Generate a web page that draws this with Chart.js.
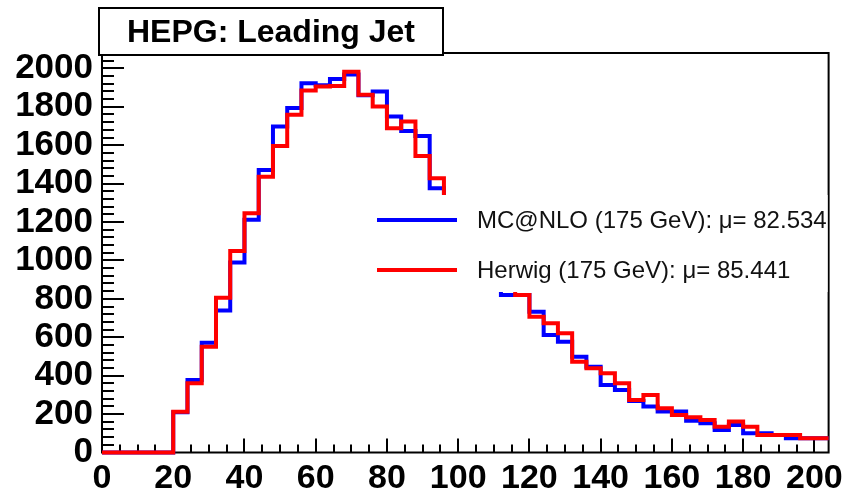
<!DOCTYPE html>
<html>
<head>
<meta charset="utf-8">
<script src="https://cdn.jsdelivr.net/npm/chart.js@4/dist/chart.umd.min.js"></script>
<style>
  html, body { margin: 0; padding: 0; background: #ffffff; }
  #wrap { width: 849px; height: 499px; }
</style>
</head>
<body>
<div id="wrap"><canvas id="c" width="849" height="499"></canvas></div>
<script>
// Leading jet pT spectrum, 4 GeV bins from 0 to 204 GeV
const binWidth = 4;
const binLowEdges = [
  0, 4, 8, 12, 16, 20, 24, 28, 32, 36, 40, 44, 48, 52, 56, 60, 64, 68, 72, 76,
  80, 84, 88, 92, 96, 100, 104, 108, 112, 116, 120, 124, 128, 132, 136, 140,
  144, 148, 152, 156, 160, 164, 168, 172, 176, 180, 184, 188, 192, 196, 200
];
const mcatnloCounts = [
  0, 0, 0, 0, 0, 210, 378, 572, 739, 989, 1212, 1471, 1697, 1793, 1923, 1912,
  1944, 1968, 1860, 1879, 1749, 1674, 1648, 1376, 1250, 1130, 1010, 900, 820,
  820, 733, 612, 577, 499, 447, 352, 326, 268, 239, 213, 213, 165, 152, 117,
  143, 100, 100, 91, 74, 74, 74
];
const herwigCounts = [
  0, 0, 0, 0, 0, 212, 360, 551, 806, 1049, 1246, 1436, 1596, 1758, 1885, 1905,
  1908, 1983, 1862, 1801, 1688, 1723, 1544, 1428, 1290, 1160, 1040, 950, 880,
  820, 707, 673, 621, 473, 438, 412, 360, 273, 299, 230, 195, 184, 169, 134,
  161, 134, 91, 91, 91, 74, 74
];
const seriesNames = [
  "MC@NLO (175 GeV): \u03bc= 82.534",
  "Herwig (175 GeV): \u03bc= 85.441"
];
const titleText = "HEPG: Leading Jet";
const xTickStep = 20, xMinorStep = 5;
const yTickStep = 200, yMinorStep = 40;

const FONT = "'Liberation Sans', Arial, Helvetica, sans-serif";

// step points: one per bin low edge, plus the closing upper edge
function histPoints(counts) {
  const pts = binLowEdges.map((x, i) => ({ x: x, y: counts[i] }));
  const last = binLowEdges.length - 1;
  pts.push({ x: binLowEdges[last] + binWidth, y: counts[last] });
  return pts;
}

// frame box and inward-pointing ticks, ROOT style
const frameAndTicks = {
  id: 'frameAndTicks',
  beforeDraw(chart) {
    const ctx = chart.ctx;
    ctx.save();
    ctx.fillStyle = '#ffffff';
    ctx.fillRect(0, 0, chart.width, chart.height);
    ctx.restore();
  },
  beforeDatasetsDraw(chart) {
    const { ctx, chartArea: a, scales } = chart;
    const xs = scales.x, ys = scales.y;
    ctx.save();
    ctx.strokeStyle = '#000000';
    ctx.lineWidth = 2;
    ctx.strokeRect(a.left, a.top, a.right - a.left, a.bottom - a.top);

    ctx.beginPath();
    // y-axis ticks
    for (let v = 0; v <= ys.max + 0.001; v += yMinorStep) {
      const py = Math.round(ys.getPixelForValue(v));
      const len = (v % yTickStep === 0) ? 22 : 12;
      ctx.moveTo(a.left, py);
      ctx.lineTo(a.left + len, py);
    }
    // x-axis ticks
    for (let v = 0; v <= xs.max + 0.001; v += xMinorStep) {
      const px = Math.round(xs.getPixelForValue(v));
      const len = (v % xTickStep === 0) ? 14 : 8;
      ctx.moveTo(px, a.bottom);
      ctx.lineTo(px, a.bottom - len);
    }
    ctx.stroke();
    ctx.restore();
  },
  afterDatasetsDraw(chart) {
    const ctx = chart.ctx;
    const a = chart.chartArea;
    const sets = chart.data.datasets;
    ctx.save();
    // legend panel (white, borderless)
    ctx.fillStyle = '#ffffff';
    ctx.fillRect(365, 195, a.right - 1 - 365, 97);
    const rows = [
      { ds: sets[1], y: 220 },
      { ds: sets[0], y: 270 }
    ];
    rows.forEach(r => {
      ctx.strokeStyle = r.ds.borderColor;
      ctx.lineWidth = 4;
      ctx.beginPath();
      ctx.moveTo(377, r.y);
      ctx.lineTo(457, r.y);
      ctx.stroke();
      ctx.fillStyle = '#111111';
      ctx.font = '24px ' + FONT;
      ctx.textBaseline = 'middle';
      ctx.textAlign = 'left';
      ctx.fillText(r.ds.label, 477, r.y + 1);
    });

    // title box
    ctx.fillStyle = '#ffffff';
    ctx.fillRect(99, 8, 344, 47);
    ctx.strokeStyle = '#000000';
    ctx.lineWidth = 2;
    ctx.strokeRect(99, 8, 344, 47);
    ctx.fillStyle = '#000000';
    ctx.font = 'bold 32px ' + FONT;
    ctx.textAlign = 'center';
    ctx.textBaseline = 'middle';
    ctx.fillText(titleText, 271, 33);
    ctx.restore();
  }
};

new Chart(document.getElementById('c'), {
  type: 'line',
  data: {
    datasets: [
      {
        label: seriesNames[1],
        data: histPoints(herwigCounts),
        borderColor: '#ff0000',
        borderWidth: 4,
        stepped: true,
        pointRadius: 0,
        fill: false,
        order: 0,
        clip: 4
      },
      {
        label: seriesNames[0],
        data: histPoints(mcatnloCounts),
        borderColor: '#0000ff',
        borderWidth: 4,
        stepped: true,
        pointRadius: 0,
        fill: false,
        order: 1,
        clip: 4
      }
    ]
  },
  options: {
    responsive: false,
    animation: false,
    events: [],
    layout: { padding: { top: 53, right: 14, left: 0, bottom: 0 } },
    plugins: {
      legend: { display: false },
      tooltip: { enabled: false },
      title: { display: false }
    },
    scales: {
      x: {
        type: 'linear',
        min: 0,
        max: 204,
        grid: { display: false, drawTicks: false },
        border: { display: false },
        ticks: {
          stepSize: xTickStep,
          includeBounds: false,
          autoSkip: false,
          maxRotation: 0,
          padding: 6,
          color: '#000000',
          font: { family: FONT, size: 34, weight: 'bold' },
          callback: v => String(v)
        },
        afterFit(scale) { scale.height = 46.5; }
      },
      y: {
        type: 'linear',
        min: 0,
        max: 2080,
        grid: { display: false, drawTicks: false },
        border: { display: false },
        ticks: {
          stepSize: yTickStep,
          includeBounds: false,
          autoSkip: false,
          padding: 9,
          color: '#000000',
          font: { family: FONT, size: 35, weight: 'bold', lineHeight: 1 },
          callback: v => String(v)
        },
        afterFit(scale) { scale.width = 102; }
      }
    }
  },
  plugins: [frameAndTicks]
});
</script>
</body>
</html>
